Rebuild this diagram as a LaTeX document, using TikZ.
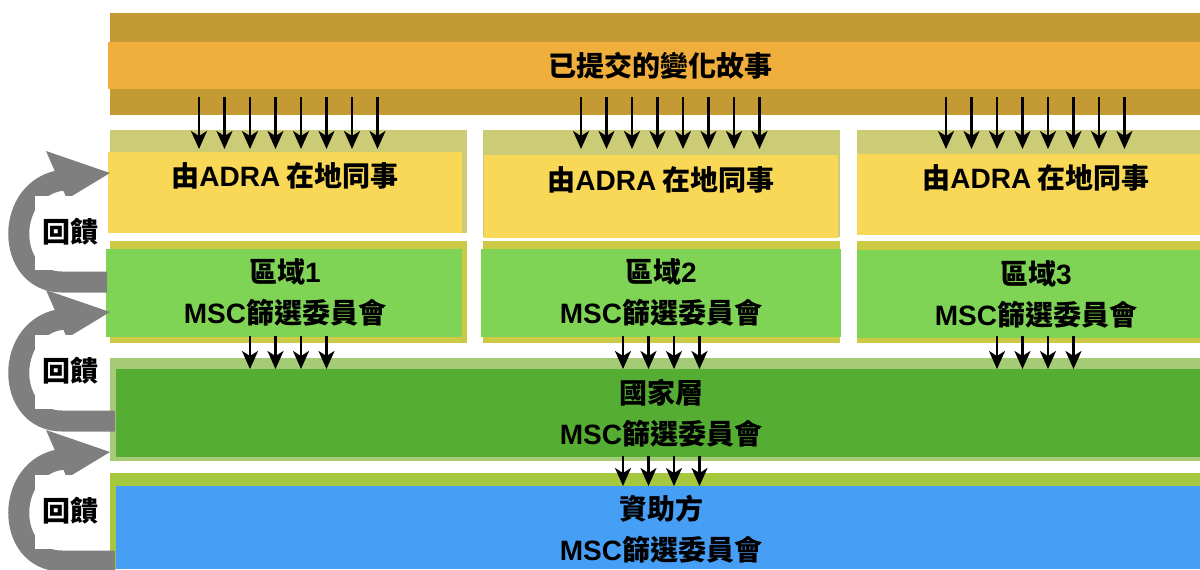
\documentclass[tikz,border=0pt]{standalone}
\usepackage{fontspec}
\newfontfamily\cjk{Noto Sans CJK TC}
\newfontfamily\lat{Liberation Sans}
\usetikzlibrary{arrows.meta}
\definecolor{goldband}{HTML}{C49A35}
\definecolor{orangebar}{HTML}{F0AE3C}
\definecolor{oliveband}{HTML}{CCCC77}
\definecolor{yellowbox}{HTML}{F8D856}
\definecolor{greenband}{HTML}{CCC944}
\definecolor{greenbox}{HTML}{80D455}
\definecolor{natband}{HTML}{A6CB76}
\definecolor{natbox}{HTML}{55AE33}
\definecolor{donband}{HTML}{A5C83E}
\definecolor{donbox}{HTML}{479EF5}
\definecolor{fbgray}{HTML}{7F7F7F}
\newcommand\msc{{\lat MSC}篩選委員會}
\newcommand\staff{由{\lat ADRA} 在地同事}
\begin{document}
\begin{tikzpicture}[x=0.5pt,y=-0.5pt,
  font=\cjk\bfseries\fontsize{14}{20.5}\selectfont,
  flow/.style={-{Stealth[length=9pt,width=8pt,inset=2.5pt]}, line width=1.1pt, black},
  lbl/.style={inner sep=0pt, align=center, text=black}]
\useasboundingbox (0,0) rectangle (1200,569);
% top band
\fill[goldband] (110,13) rectangle (1200,115);
\fill[orangebar] (108,42) rectangle (1200,89);
\node[lbl] (story) at (660,66) {已提交的變化故事};
% local staff boxes
\fill[oliveband] (110,130) rectangle (467,233);
\fill[yellowbox] (108,152) rectangle (462,233);
\fill[oliveband] (483,130) rectangle (840,237);
\fill[yellowbox] (484,155) rectangle (838,238);
\fill[oliveband] (857,130) rectangle (1200,235);
\fill[yellowbox] (857,154) rectangle (1200,235);
\node[lbl] (staff1) at (285,176) {\staff};
\node[lbl] (staff2) at (661,180) {\staff};
\node[lbl] (staff3) at (1036,178) {\staff};
% region boxes
\fill[greenband] (110,241) rectangle (467,343);
\fill[greenbox] (106,249) rectangle (462,337);
\fill[greenband] (483,241) rectangle (840,343);
\fill[greenbox] (481,249) rectangle (841,337);
\fill[greenband] (857,241) rectangle (1200,343);
\fill[greenbox] (857,250) rectangle (1200,338);
\node[lbl] (reg1) at (285,292.5) {區域{\lat 1}\\\msc};
\node[lbl] (reg2) at (661,292.5) {區域{\lat 2}\\\msc};
\node[lbl] (reg3) at (1036,294.5) {區域{\lat 3}\\\msc};
% national
\fill[natband] (110,358) rectangle (1200,461);
\fill[natbox] (116,369) rectangle (1200,457);
\node[lbl] (nat) at (661,413.5) {國家層\\\msc};
% donor
\fill[donband] (110,473) rectangle (1200,569);
\fill[donbox] (116,486) rectangle (1200,569);
\node[lbl] (don) at (661,529.5) {資助方\\\msc};
% arrows from stories to local staff
\foreach \x in {199,224.5,250,275.5,301,326.5,352,377.5,
                581,606.5,632,657.5,683,708.5,734,759.5,
                946,971.5,997,1022.5,1048,1073.5,1099,1124.5}
  \draw[flow] (\x,97) -- (\x,149);
% arrows from regions to national
\foreach \x in {250,275.5,301,326.5, 623,648.5,674,699.5, 997,1022.5,1048,1073.5}
  \draw[flow] (\x,336) -- (\x,369);
% arrows from national to donor
\foreach \x in {623,648.5,674,699.5}
  \draw[flow] (\x,456) -- (\x,486);
% feedback arrows
\foreach \d/\e in {0/107,139/115,279/115}{
  \begin{scope}[shift={(0,\d)}]
    \draw[fbgray, line width=10.5pt] (\e,282) -- (62,282) .. controls (4,282) and (4,186) .. (64,180);
    \fill[fbgray] (46,151) -- (110,173) -- (67,199) -- cycle;
    \fill[white] (35,196) rectangle (106,270);
    \node[lbl] (fb\d) at (70,232) {回饋};
  \end{scope}}
\end{tikzpicture}
\end{document}
